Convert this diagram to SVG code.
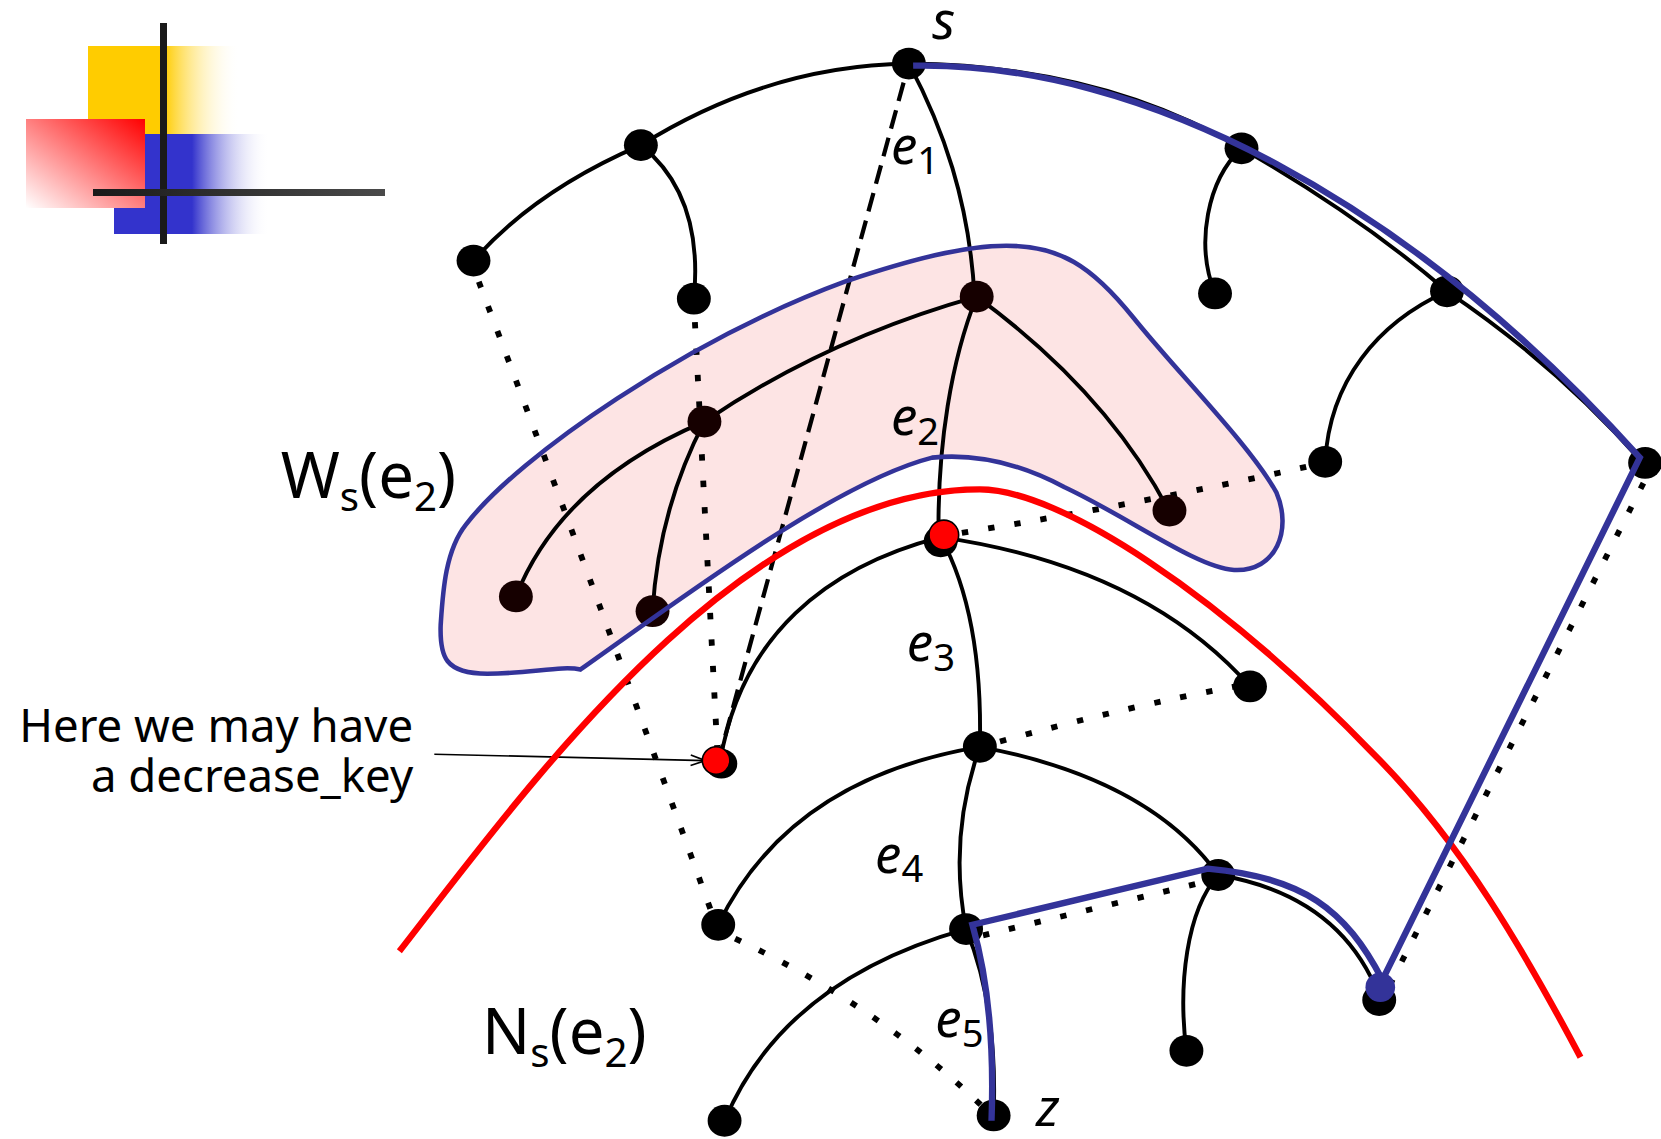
<svg xmlns="http://www.w3.org/2000/svg" width="1661" height="1139" viewBox="0 0 1661 1139">
<defs>
  <linearGradient id="gy" x1="0" y1="0" x2="1" y2="0">
    <stop offset="0" stop-color="#ffcc00"/>
    <stop offset="0.5" stop-color="#ffcc00"/>
    <stop offset="1" stop-color="#ffffff" stop-opacity="0"/>
  </linearGradient>
  <linearGradient id="gb" x1="0" y1="0" x2="1" y2="0">
    <stop offset="0" stop-color="#3333cc"/>
    <stop offset="0.5" stop-color="#3333cc"/>
    <stop offset="1" stop-color="#ffffff" stop-opacity="0"/>
  </linearGradient>
  <linearGradient id="gr" x1="1" y1="0" x2="0" y2="1">
    <stop offset="0" stop-color="#ff0000"/>
    <stop offset="1" stop-color="#ffffff"/>
  </linearGradient>
  <linearGradient id="gk" x1="0" y1="0" x2="1" y2="0">
    <stop offset="0" stop-color="#1a1a1a"/>
    <stop offset="1" stop-color="#4a4a4a"/>
  </linearGradient>
  <marker id="arr" markerWidth="16" markerHeight="12" refX="15" refY="6" orient="auto" markerUnits="userSpaceOnUse">
    <path d="M1,1 L15,6 L1,11" fill="none" stroke="#000" stroke-width="1.6"/>
  </marker>
</defs>
<style>
  .e{fill:none;stroke:#000;stroke-width:3.7}
  .dot{fill:none;stroke:#000;stroke-width:5.5;stroke-dasharray:6 19}
  .dash{fill:none;stroke:#000;stroke-width:4;stroke-dasharray:18 9}
  .blue{fill:none;stroke:#333399;stroke-width:6;stroke-linejoin:miter}
  .red{fill:none;stroke:#ff0000;stroke-width:6}
  .nd{fill:#000}
  .ndw{fill:#160000}
  .lbl{font-family:"Noto Sans","DejaVu Sans",sans-serif;font-style:italic;font-size:50px;fill:#000}
  .sub{font-style:normal;font-size:36px}
  .big{font-family:"Noto Sans","DejaVu Sans",sans-serif;font-size:60px;fill:#000}
  .bsub{font-size:38px}
  .comic{font-family:"Comic Sans MS","Noto Sans",sans-serif;font-size:43px;fill:#000;text-anchor:end}
</style>
<rect width="1661" height="1139" fill="#ffffff"/>

<g id="logo">
  <rect x="88" y="46" width="152" height="88" fill="url(#gy)"/>
  <rect x="114" y="134" width="156" height="100" fill="url(#gb)"/>
  <rect x="26" y="119" width="119" height="89" fill="url(#gr)"/>
  <rect x="160" y="23" width="7" height="221" fill="#1a1a1a"/>
  <rect x="93" y="189" width="292" height="7" fill="url(#gk)"/>
</g>

<g id="diagram" transform="scale(1.05931)">
  <g id="region-W">
    <path d="M548,632 C530,628 500,636 460,636 C420,636 415,620 416,590 C418,560 420,520 440,495 C490,430 650,320 800,265 C860,245 910,232 950,232 C1000,232 1030,250 1070,300 C1110,350 1180,420 1205,465 C1220,500 1205,540 1165,538 C1130,536 1065,488 1005,460 C960,436 920,428 880,432 C790,455 650,560 548,632 Z" fill="#fde4e4"/>
  </g>

  <g id="connectors">
    <path class="e" d="M858,60 Q725,62 605,137"/>
    <path class="e" d="M605,137 Q505,180 447,246"/>
    <path class="e" d="M605,137 C640,165 662,210 655,282"/>
    <path class="e" d="M858,60 C890,120 915,190 920,280"/>
    <path class="e" d="M858,60 Q1040,62 1172,140"/>
    <path class="e" d="M1172,140 Q1285,205 1366,275"/>
    <path class="e" d="M1366,275 Q1470,345 1551,437"/>
    <path class="e" d="M1172,140 C1140,170 1128,230 1147,277"/>
    <path class="e" d="M1366,275 C1300,305 1255,360 1251,436"/>
    <path class="e" d="M922,280 Q780,320 665,398"/>
    <path class="e" d="M922,280 Q1045,370 1104,483"/>
    <path class="e" d="M922,280 C898,340 885,420 886,505"/>
    <path class="e" d="M665,398 Q530,455 487,563"/>
    <path class="e" d="M665,398 Q622,480 616,577"/>
    <path class="e" d="M888,507 C780,535 700,600 680,718"/>
    <path class="e" d="M888,507 Q1080,535 1180,648"/>
    <path class="e" d="M888,507 Q928,580 925,705"/>
    <path class="e" d="M925,705 Q745,735 678,873"/>
    <path class="e" d="M925,705 Q1085,735 1150,826"/>
    <path class="e" d="M925,705 Q895,790 912,877"/>
    <path class="e" d="M912,877 Q740,925 684,1058"/>
    <path class="e" d="M912,877 Q942,950 938,1053"/>
    <path class="e" d="M1150,826 C1120,860 1112,930 1120,992"/>
    <path class="e" d="M1150,826 Q1265,845 1302,940"/>

    <path class="dot" d="M452,266 Q548,520 672,862"/>
    <path class="dot" d="M656,304 L677,705"/>
    <path class="dot" d="M694,886 Q830,950 928,1045"/>
    <path class="dot" d="M908,503 Q1080,475 1236,440"/>
    <path class="dot" d="M944,700 Q1060,668 1166,648"/>
    <path class="dot" d="M928,883 L1135,833"/>
    <path class="dot" d="M1312,930 L1557,445"/>

    <path class="dash" d="M853,78 L681,708"/>

    <path d="M410,712 L666,718" fill="none" stroke="#000" stroke-width="1.6" marker-end="url(#arr)"/>
  </g>

  <g id="nodes">
    <g id="n-s"><ellipse class="nd" cx="858" cy="60" rx="16" ry="15"/></g>
    <g id="n-a"><ellipse class="nd" cx="605" cy="137" rx="16" ry="15"/></g>
    <g id="n-b"><ellipse class="nd" cx="447" cy="246" rx="16" ry="15"/></g>
    <g id="n-c"><ellipse class="nd" cx="655" cy="282" rx="16" ry="15"/></g>
    <g id="n-d"><ellipse class="ndw" cx="922" cy="280" rx="16" ry="15"/></g>
    <g id="n-e"><ellipse class="ndw" cx="665" cy="398" rx="16" ry="15"/></g>
    <g id="n-f"><ellipse class="ndw" cx="487" cy="563" rx="16" ry="15"/></g>
    <g id="n-g"><ellipse class="ndw" cx="616" cy="577" rx="16" ry="15"/></g>
    <g id="n-h"><ellipse class="ndw" cx="1104" cy="482" rx="16" ry="15"/></g>
    <g id="n-k"><ellipse class="nd" cx="1180" cy="648" rx="16" ry="15"/></g>
    <g id="n-l"><ellipse class="nd" cx="925" cy="705" rx="16" ry="15"/></g>
    <g id="n-m"><ellipse class="nd" cx="678" cy="873" rx="16" ry="15"/></g>
    <g id="n-n"><ellipse class="nd" cx="912" cy="877" rx="16" ry="15"/></g>
    <g id="n-o"><ellipse class="nd" cx="1150" cy="826" rx="16" ry="15"/></g>
    <g id="n-p"><ellipse class="nd" cx="1120" cy="992" rx="16" ry="15"/></g>
    <g id="n-r"><ellipse class="nd" cx="684" cy="1058" rx="16" ry="15"/></g>
    <g id="n-z"><ellipse class="nd" cx="938" cy="1053" rx="16" ry="15"/></g>
    <g id="n-t1"><ellipse class="nd" cx="1172" cy="140" rx="16" ry="15"/></g>
    <g id="n-t1l"><ellipse class="nd" cx="1147" cy="277" rx="16" ry="15"/></g>
    <g id="n-t2"><ellipse class="nd" cx="1366" cy="275" rx="16" ry="15"/></g>
    <g id="n-t2l"><ellipse class="nd" cx="1251" cy="436" rx="16" ry="15"/></g>
    <g id="n-t3"><ellipse class="nd" cx="1553" cy="437" rx="16" ry="15"/></g>
    <g id="n-i"><ellipse class="nd" cx="888" cy="511" rx="16" ry="15"/><circle cx="891" cy="505" r="14" fill="#ff0000" stroke="#000" stroke-width="1.5"/></g>
    <g id="n-j"><ellipse class="nd" cx="681" cy="721" rx="15" ry="14"/><circle cx="676" cy="718" r="13" fill="#ff0000" stroke="#000" stroke-width="1.5"/></g>
  </g>

  <g id="outlines">
    <path d="M548,632 C530,628 500,636 460,636 C420,636 415,620 416,590 C418,560 420,520 440,495 C490,430 650,320 800,265 C860,245 910,232 950,232 C1000,232 1030,250 1070,300 C1110,350 1180,420 1205,465 C1220,500 1205,540 1165,538 C1130,536 1065,488 1005,460 C960,436 920,428 880,432 C790,455 650,560 548,632 Z" fill="none" stroke="#333399" stroke-width="4.3"/>
    <path class="red" d="M377,898 C500,740 700,462 925,462 C1000,462 1150,560 1296,711 C1380,795 1440,900 1492,998"/>
    <path class="blue" d="M862,62 C1080,58 1330,190 1548,432 L1305,925 C1270,858 1230,828 1140,820 L918,873 Q940,950 936,1058"/>
  </g>

  <g id="n-q"><ellipse class="nd" cx="1302" cy="944" rx="16" ry="15"/><circle cx="1303" cy="932" r="14" fill="#333399"/></g>

  <g id="labels">
    <text class="lbl" x="880" y="37">s</text>
    <text class="lbl" x="978" y="1063">z</text>
    <text class="lbl" x="841" y="155">e<tspan class="sub" dy="9">1</tspan></text>
    <text class="lbl" x="841" y="411">e<tspan class="sub" dy="9">2</tspan></text>
    <text class="lbl" x="856" y="624">e<tspan class="sub" dy="9">3</tspan></text>
    <text class="lbl" x="826" y="824">e<tspan class="sub" dy="9">4</tspan></text>
    <text class="lbl" x="883" y="979">e<tspan class="sub" dy="9">5</tspan></text>
    <text class="big" x="265" y="470">W<tspan class="bsub" dy="12">s</tspan><tspan dy="-12">(e</tspan><tspan class="bsub" dy="12">2</tspan><tspan dy="-12">)</tspan></text>
    <text class="big" x="455" y="995">N<tspan class="bsub" dy="12">s</tspan><tspan dy="-12">(e</tspan><tspan class="bsub" dy="12">2</tspan><tspan dy="-12">)</tspan></text>
    <text class="comic" x="390" y="700">Here we may have</text>
    <text class="comic" x="390" y="748">a decrease_key</text>
  </g>
</g>
</svg>
